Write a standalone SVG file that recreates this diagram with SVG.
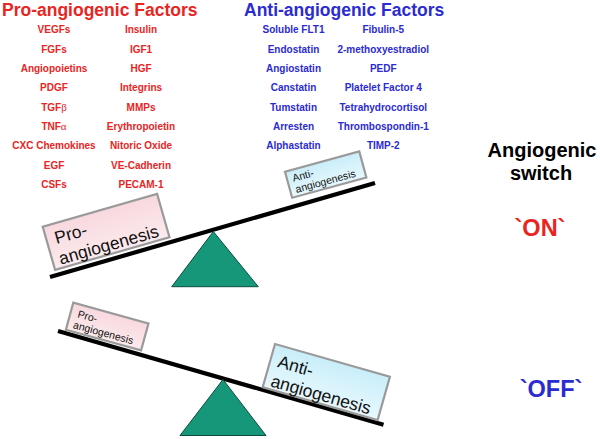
<svg xmlns="http://www.w3.org/2000/svg" width="600" height="439" viewBox="0 0 600 439">
<defs>
<linearGradient id="pink" x1="0" y1="0" x2="0" y2="1">
<stop offset="0" stop-color="#f8d8de"/>
<stop offset="1" stop-color="#fcebee"/>
</linearGradient>
<linearGradient id="blue" x1="0" y1="0" x2="0" y2="1">
<stop offset="0" stop-color="#c9eefa"/>
<stop offset="1" stop-color="#e8f8fd"/>
</linearGradient>
</defs>
<style>
text{font-family:"Liberation Sans",Arial,sans-serif}
.title{font-size:17.5px;font-weight:bold}
.item{font-size:10px;font-weight:bold;text-anchor:middle}
.red{fill:#e8251f}
.blu{fill:#2b2bd2}
.greek{font-family:"Liberation Serif",serif;font-weight:normal;font-size:11px}
.box{stroke:#9a9a9a;stroke-width:2.2}
.big{font-size:17.5px;fill:#111}
.small{font-size:10.5px;fill:#111}
.beam{stroke:#000;stroke-width:4.2;stroke-linecap:butt}
.fulcrum{fill:#17977a;stroke:#0d4d3e;stroke-width:1}
.sw{font-size:20px;font-weight:bold;text-anchor:middle}
.state{font-size:23.5px;font-weight:bold;text-anchor:middle}
</style>

<g id="pro-factors">
<text class="title red" x="2" y="16">Pro-angiogenic Factors</text>
<g class="item red">
<text x="54" y="33.3">VEGFs</text>
<text x="54" y="52.6">FGFs</text>
<text x="54" y="72">Angiopoietins</text>
<text x="54" y="91.3">PDGF</text>
<text x="54" y="110.6">TGF<tspan class="greek">β</tspan></text>
<text x="54" y="130">TNF<tspan class="greek">α</tspan></text>
<text x="54" y="149.3">CXC Chemokines</text>
<text x="54" y="168.6">EGF</text>
<text x="54" y="188">CSFs</text>
<text x="141" y="33.3">Insulin</text>
<text x="141" y="52.6">IGF1</text>
<text x="141" y="72">HGF</text>
<text x="141" y="91.3">Integrins</text>
<text x="141" y="110.6">MMPs</text>
<text x="141" y="130">Erythropoietin</text>
<text x="141" y="149.3">Nitoric Oxide</text>
<text x="141" y="168.6">VE-Cadherin</text>
<text x="141" y="188">PECAM-1</text>
</g>
</g>

<g id="anti-factors">
<text class="title blu" x="244" y="16">Anti-angiogenic Factors</text>
<g class="item blu">
<text x="293.5" y="33.3">Soluble FLT1</text>
<text x="293.5" y="52.6">Endostatin</text>
<text x="293.5" y="72">Angiostatin</text>
<text x="293.5" y="91.3">Canstatin</text>
<text x="293.5" y="110.6">Tumstatin</text>
<text x="293.5" y="130">Arresten</text>
<text x="293.5" y="149.3">Alphastatin</text>
<text x="383.3" y="33.3">Fibulin-5</text>
<text x="383.3" y="52.6">2-methoxyestradiol</text>
<text x="383.3" y="72">PEDF</text>
<text x="383.3" y="91.3">Platelet Factor 4</text>
<text x="383.3" y="110.6">Tetrahydrocortisol</text>
<text x="383.3" y="130">Thrombospondin-1</text>
<text x="383.3" y="149.3">TIMP-2</text>
</g>
</g>

<g id="switch-label">
<text class="sw" x="542" y="157" fill="#000">Angiogenic</text>
<text class="sw" x="541" y="180" fill="#000">switch</text>
</g>
<g id="on-label"><text class="state red" x="540" y="236">`ON`</text></g>
<g id="off-label"><text class="state blu" x="551" y="397">`OFF`</text></g>

<g id="connectors">
<line class="beam" x1="50" y1="277" x2="375" y2="183"/>
<line class="beam" x1="58" y1="331" x2="383.5" y2="424.7"/>
</g>

<g id="fulcrum-on"><polygon class="fulcrum" points="213.3,231.5 171.7,286.7 258.3,286.7"/></g>
<g id="fulcrum-off"><polygon class="fulcrum" points="223,379.5 180,435.5 266,435.5"/></g>

<g id="on-pro" transform="translate(42.7,226.7) rotate(-16)">
<rect class="box" x="0" y="0" width="119" height="45" fill="url(#pink)"/>
<text class="big" x="8.5" y="20.5">Pro-</text>
<text class="big" x="7" y="41.5">angiogenesis</text>
</g>

<g id="on-anti" transform="translate(285,171.7) rotate(-15.3)">
<rect class="box" x="0" y="0" width="77" height="27" fill="url(#blue)"/>
<text class="small" x="5.5" y="12">Anti-</text>
<text class="small" x="5.5" y="23.5">angiogenesis</text>
</g>

<g id="off-pro" transform="translate(73.3,302.7) rotate(15.4)">
<rect class="box" x="0" y="0" width="78" height="28" fill="url(#pink)"/>
<text class="small" x="7.5" y="13">Pro-</text>
<text class="small" x="6" y="24.5">angiogenesis</text>
</g>

<g id="off-anti" transform="translate(275,344) rotate(15.9)">
<rect class="box" x="0" y="0" width="119.5" height="45" fill="url(#blue)"/>
<text class="big" x="8" y="21.5">Anti-</text>
<text class="big" x="6.5" y="42">angiogenesis</text>
</g>
</svg>
